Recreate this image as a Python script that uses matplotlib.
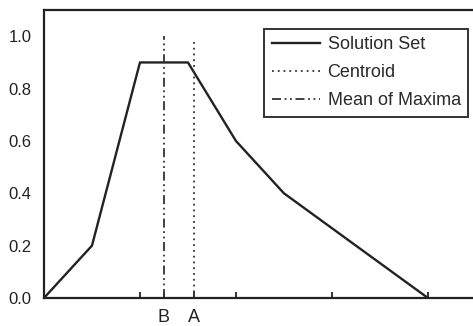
import numpy as np
import matplotlib.pyplot as plt

plt.rcParams['font.family'] = ['Liberation Sans', 'DejaVu Sans']

# solution set (membership function)
xs = [0.0, 0.5, 1.0, 1.5, 2.0, 2.5, 4.0]
ys = [0.0, 0.2, 0.9, 0.9, 0.6, 0.4, 0.0]

centroid = 1.56
mom = 1.25
centroid_top = 0.98
mom_top = 1.0

xtick_pos = [1, 2, 3, 4]
yticks = [0.0, 0.2, 0.4, 0.6, 0.8, 1.0]

fig = plt.figure(figsize=(4.73, 3.26), dpi=100)
ax = fig.add_axes([0.093, 0.086, 0.907, 0.883])

ax.plot(xs, ys, color='#222222', lw=1.7, label='Solution Set')
ax.plot([centroid, centroid], [0, centroid_top], color='#333333', lw=1.3,
        ls=(0, (1, 2.2)), label='Centroid')
ax.plot([mom, mom], [0, mom_top], color='#333333', lw=1.3,
        ls=(0, (5, 2, 1, 2, 1, 2)), label='Mean of Maxima')

ax.set_xlim(0, 4.47)
ax.set_ylim(0, 1.1)

ax.set_xticks(xtick_pos + [mom, centroid])
ax.set_xticklabels(['', '', '', '', 'B', 'A'])
ax.set_yticks(yticks)
ax.set_yticklabels(['%.1f' % v for v in yticks])
ax.tick_params(direction='in', length=4, width=1.3, colors='#222222',
               labelsize=12, pad=4)
ax.tick_params(axis='x', labelsize=13, pad=8)
ax.tick_params(axis='y', length=0, pad=9)

for s in ['left', 'bottom', 'top']:
    ax.spines[s].set_linewidth(1.6)
    ax.spines[s].set_color('#222222')
ax.spines['right'].set_visible(False)

leg = ax.legend(loc='upper right', bbox_to_anchor=(0.988, 0.935), fontsize=13,
                handlelength=2.7, fancybox=False, framealpha=1,
                edgecolor='#333333', borderpad=0.4, labelspacing=0.62,
                handletextpad=0.4, borderaxespad=0)
leg.get_frame().set_linewidth(1.4)
for t in leg.get_texts():
    t.set_color('#2a2a2a')

fig.savefig('out.png', dpi=100)
